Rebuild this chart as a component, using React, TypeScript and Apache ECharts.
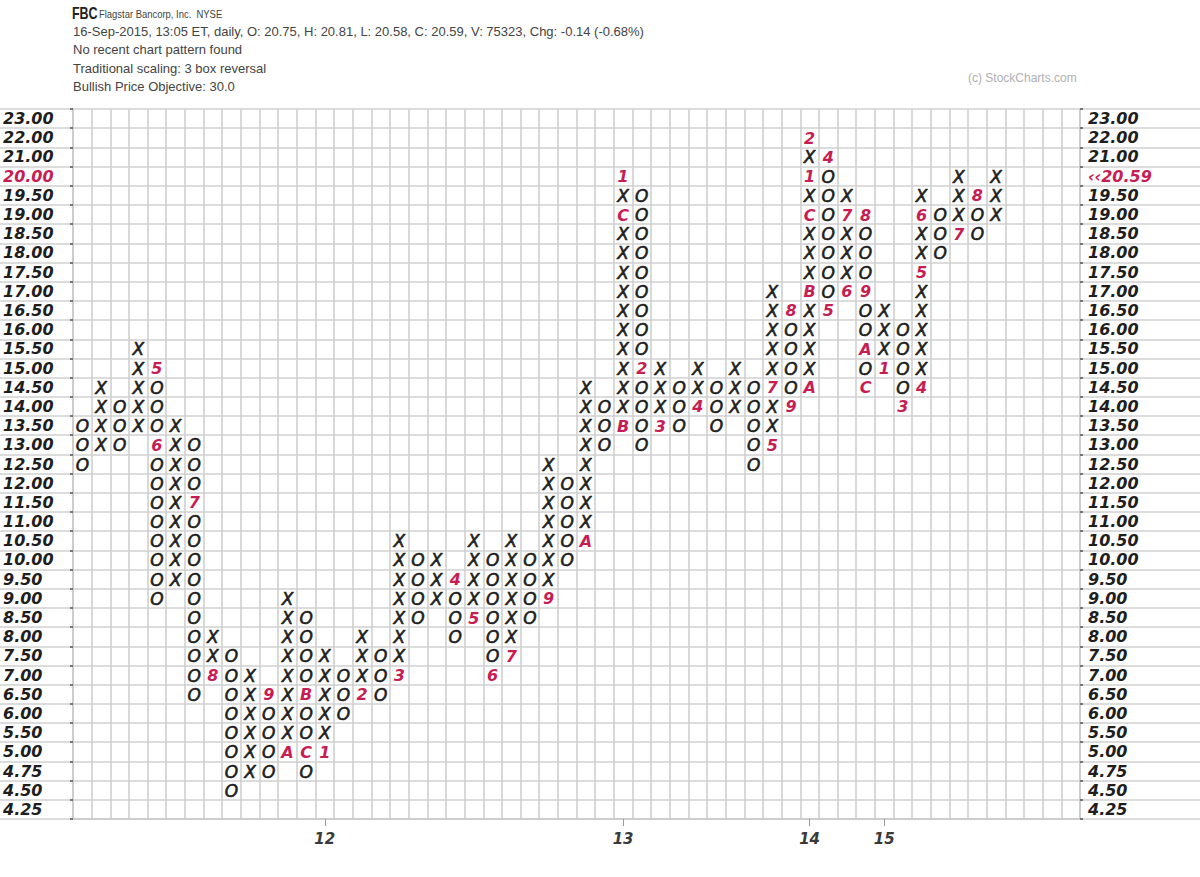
import React, { useEffect, useRef } from "react";
import * as echarts from "echarts";

// Price levels (rows, top to bottom)
const priceLevels = [
  "23.00", "22.00", "21.00", "20.00", "19.50", "19.00", "18.50", "18.00", "17.50", "17.00",
  "16.50", "16.00", "15.50", "15.00", "14.50", "14.00", "13.50", "13.00", "12.50", "12.00",
  "11.50", "11.00", "10.50", "10.00", "9.50", "9.00", "8.50", "8.00", "7.50", "7.00",
  "6.50", "6.00", "5.50", "5.00", "4.75", "4.50", "4.25",
];
const highlightLevel = "20.00";
const lastPriceLabel = "‹‹20.59";

const columnCount = 54;
const yearCols = [13, 29, 39, 43];
const yearNames = ["12", "13", "14", "15"];

// Point & figure columns: [kind, low, high]
const columns: [string, number, number][] = [
  ["O", 12.5, 13.5], ["X", 13.0, 14.5], ["O", 13.0, 14.0], ["X", 13.5, 15.5],
  ["O", 9.0, 15.0], ["X", 9.5, 13.5], ["O", 6.5, 13.0], ["X", 7.0, 8.0],
  ["O", 4.5, 7.5], ["X", 4.75, 7.0], ["O", 4.75, 6.5], ["X", 5.0, 9.0],
  ["O", 4.75, 8.5], ["X", 5.0, 7.5], ["O", 6.0, 7.0], ["X", 6.5, 8.0],
  ["O", 6.5, 7.5], ["X", 7.0, 10.5], ["O", 8.5, 10.0], ["X", 9.0, 10.0],
  ["O", 8.0, 9.5], ["X", 8.5, 10.5], ["O", 7.0, 10.0], ["X", 7.5, 10.5],
  ["O", 8.5, 10.0], ["X", 9.0, 12.5], ["O", 10.0, 12.0], ["X", 10.5, 14.5],
  ["O", 13.0, 14.0], ["X", 13.5, 20.0], ["O", 13.0, 19.5], ["X", 13.5, 15.0],
  ["O", 13.5, 14.5], ["X", 14.0, 15.0], ["O", 13.5, 14.5], ["X", 14.0, 15.0],
  ["O", 12.5, 14.5], ["X", 13.0, 17.0], ["O", 14.0, 16.5], ["X", 14.5, 22.0],
  ["O", 16.5, 21.0], ["X", 17.0, 19.5], ["O", 14.5, 19.0], ["X", 15.0, 16.5],
  ["O", 14.0, 16.0], ["X", 14.5, 19.5], ["O", 18.0, 19.0], ["X", 18.5, 20.0],
  ["O", 18.5, 19.5], ["X", 19.0, 20.0],
];

// Month markers: [column, price, label]
const monthMarkers: [number, number, string][] = [
  [4, 15.0, "5"], [4, 13.0, "6"], [6, 11.5, "7"], [7, 7.0, "8"], [10, 6.5, "9"],
  [11, 5.0, "A"], [12, 6.5, "B"], [12, 5.0, "C"], [13, 5.0, "1"], [15, 6.5, "2"],
  [17, 7.0, "3"], [20, 9.5, "4"], [21, 8.5, "5"], [22, 7.0, "6"], [23, 7.5, "7"],
  [25, 9.0, "9"], [27, 10.5, "A"], [29, 13.5, "B"], [29, 19.0, "C"], [29, 20.0, "1"],
  [30, 15.0, "2"], [31, 13.5, "3"], [33, 14.0, "4"], [37, 13.0, "5"], [37, 14.5, "7"],
  [38, 16.5, "8"], [38, 14.0, "9"], [39, 14.5, "A"], [39, 17.0, "B"], [39, 19.0, "C"],
  [39, 20.0, "1"], [39, 22.0, "2"], [40, 21.0, "4"], [40, 16.5, "5"], [41, 17.0, "6"],
  [41, 19.0, "7"], [42, 19.0, "8"], [42, 17.0, "9"], [42, 15.5, "A"], [42, 14.5, "C"],
  [43, 15.0, "1"], [44, 14.0, "3"], [45, 14.5, "4"], [45, 17.5, "5"], [45, 19.0, "6"],
  [47, 18.5, "7"], [48, 19.5, "8"],
];

const headerLines = [
  "16-Sep-2015, 13:05 ET, daily, O: 20.75, H: 20.81, L: 20.58, C: 20.59, V: 75323, Chg: -0.14 (-0.68%)",
  "No recent chart pattern found",
  "Traditional scaling: 3 box reversal",
  "Bullish Price Objective: 30.0",
];

const RED = "#c81d52";
const GRID = "#d0d0d0";
const FONT = "'DejaVu Sans', sans-serif";
const SANS = "'Liberation Sans', Arial, sans-serif";

export default function App() {
  const ref = useRef<HTMLDivElement>(null);
  useEffect(() => {
    if (!ref.current) return;
    const chart = echarts.init(ref.current, undefined, { renderer: "svg" });

    const rowOf = (p: number) => priceLevels.findIndex((l) => parseFloat(l) === p);
    const cells: { value: [number, number]; text: string; marker: boolean }[] = [];
    columns.forEach(([kind, lo, hi], c) => {
      for (let r = rowOf(hi); r <= rowOf(lo); r++) {
        const m = monthMarkers.find((mk) => mk[0] === c && rowOf(mk[1]) === r);
        cells.push({ value: [c, r], text: m ? m[2] : kind, marker: !!m });
      }
    });

    const xLabels: string[] = [];
    for (let i = 0; i < columnCount; i++) {
      const k = yearCols.indexOf(i);
      xLabels.push(k >= 0 ? yearNames[k] : "");
    }

    const labelStyle = {
      fontFamily: FONT,
      fontSize: 16,
      fontWeight: "bold" as const,
      fontStyle: "italic" as const,
      color: "#1e1e1e",
    };

    const header: any[] = [
      {
        type: "text",
        x: 72,
        y: 13,
        scaleX: 0.78,
        style: { text: "FBC", font: `bold 16px ${SANS}`, fill: "#222", verticalAlign: "middle" },
      },
      {
        type: "text",
        x: 99,
        y: 14,
        scaleX: 0.9,
        style: { text: "Flagstar Bancorp, Inc.  NYSE", font: `10.5px ${SANS}`, fill: "#444", verticalAlign: "middle" },
      },
      {
        type: "text",
        x: 968,
        y: 78,
        style: { text: "(c) StockCharts.com", font: `12px ${SANS}`, fill: "#b0b0b0", verticalAlign: "middle" },
      },
    ];
    headerLines.forEach((t, i) => {
      header.push({
        type: "text",
        x: 73,
        y: 31 + i * 18.5,
        style: { text: t, font: `13px ${SANS}`, fill: "#444", verticalAlign: "middle" },
      });
    });

    chart.setOption({
      animation: false,
      backgroundColor: "#fff",
      graphic: header,
      grid: [
        { left: 72.7, right: 120, top: 109, bottom: 58, containLabel: false },
        { left: 0, right: 0, top: 109, bottom: 58, containLabel: false },
      ],
      xAxis: [
        {
          type: "category",
          gridIndex: 0,
          data: xLabels,
          boundaryGap: true,
          axisLine: { show: true, lineStyle: { color: "#c8c8c8", width: 1.5 } },
          axisTick: {
            show: true,
            alignWithLabel: true,
            interval: (_i: number, v: string) => v !== "",
            length: 7,
            lineStyle: { color: "#999" },
          },
          axisLabel: { interval: 0, margin: 12, ...labelStyle, fontSize: 15, color: "#3a3a3a" },
          splitLine: { show: true, interval: 0, lineStyle: { color: GRID, width: 1.6 } },
        },
        { type: "value", gridIndex: 1, show: false, min: 0, max: 1 },
      ],
      yAxis: [
        {
          type: "category",
          gridIndex: 0,
          data: priceLevels,
          inverse: true,
          position: "left",
          axisLine: { show: true, lineStyle: { color: "#c8c8c8", width: 1.5 } },
          axisTick: { show: true, length: 3, lineStyle: { color: "#555", width: 1.5 } },
          axisLabel: {
            interval: 0,
            align: "left",
            margin: 70,
            ...labelStyle,
            formatter: (v: string) => (v === highlightLevel ? `{hl|${v}}` : v),
            rich: { hl: { ...labelStyle, color: RED } },
          },
          splitLine: { show: false },
        },
        {
          type: "category",
          gridIndex: 0,
          data: priceLevels,
          inverse: true,
          position: "right",
          axisLine: { show: true, lineStyle: { color: "#c8c8c8", width: 1.5 } },
          axisTick: { show: true, length: 3, lineStyle: { color: "#555", width: 1.5 } },
          axisLabel: {
            interval: 0,
            align: "left",
            margin: 8,
            ...labelStyle,
            formatter: (v: string) => (v === highlightLevel ? `{hl|${lastPriceLabel}}` : v),
            rich: { hl: { ...labelStyle, color: RED } },
          },
          splitLine: { show: false },
        },
        {
          type: "category",
          gridIndex: 1,
          data: priceLevels,
          inverse: true,
          axisLine: { show: false },
          axisTick: { show: false },
          axisLabel: { show: false },
          splitLine: { show: true, interval: 0, lineStyle: { color: GRID, width: 1.6 } },
        },
      ],
      series: [
        {
          type: "custom",
          xAxisIndex: 0,
          yAxisIndex: 0,
          data: cells.map((c) => c.value),
          renderItem: (params: any, api: any) => {
            const cell = cells[params.dataIndex];
            const pt = api.coord([api.value(0), api.value(1)]);
            const color = cell.marker ? RED : "#1e1e1e";
            return {
              type: "text",
              x: pt[0],
              y: pt[1] + 0.5,
              style: {
                text: cell.text,
                fill: color,
                stroke: cell.marker ? undefined : color,
                lineWidth: cell.marker ? 0 : 0.6,
                font: cell.marker ? `italic bold 16px ${FONT}` : `italic 17px ${FONT}`,
                align: "center",
                verticalAlign: "middle",
              },
            };
          },
        },
      ],
    });
    return () => chart.dispose();
  }, []);
  return (
    <div
      ref={ref}
      style={{ position: "fixed", left: 0, top: 0, width: 1200, height: 877, background: "#fff" }}
    />
  );
}
